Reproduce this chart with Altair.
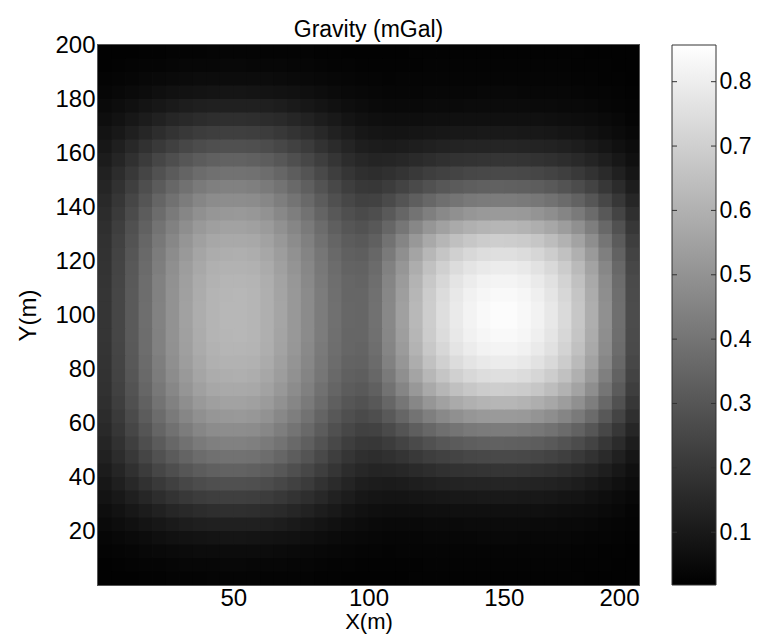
import altair as alt
import pandas as pd

FONT = "Liberation Sans"

title_text = "Gravity (mGal)"
x_title = "X(m)"
y_title = "Y(m)"
x_ticks = [50, 100, 150, 200]
y_ticks = [20, 40, 60, 80, 100, 120, 140, 160, 180, 200]
colorbar_ticks = [0.1, 0.2, 0.3, 0.4, 0.5, 0.6, 0.7, 0.8]
color_domain = [0.018, 0.857]
cell_size = 5
cell_overlap = 0.3   # tiny overlap so that neighbouring cells leave no hairline seams
x_left = list(range(0, 200, 5))
y_bottom = list(range(0, 200, 5))

# gravity (mGal), one row per 5 m strip, from y = 0-5 m up to y = 195-200 m
r00 = [.024,.025,.026,.028,.029,.031,.032,.032,.033,.033,.033,.033,.032,.032,.031,.030,.029,.027,.026,.026,.025,.026,.026,.027,.028,.028,.029,.029,.029,.029,.029,.029,.029,.028,.028,.027,.026,.025,.024,.023]
r01 = [.026,.029,.031,.034,.036,.038,.040,.041,.042,.043,.043,.042,.041,.040,.038,.037,.034,.032,.030,.029,.028,.028,.029,.029,.030,.031,.031,.031,.032,.032,.032,.031,.031,.031,.030,.029,.028,.027,.025,.024]
r02 = [.031,.035,.039,.043,.048,.051,.054,.057,.058,.059,.059,.058,.057,.054,.051,.048,.044,.040,.037,.034,.033,.032,.033,.033,.034,.035,.035,.036,.036,.036,.036,.036,.035,.035,.034,.032,.031,.029,.027,.025]
r03 = [.039,.045,.052,.059,.067,.073,.078,.082,.085,.086,.086,.085,.082,.078,.073,.067,.061,.054,.048,.043,.040,.039,.039,.039,.040,.041,.042,.042,.043,.043,.043,.042,.042,.041,.040,.038,.036,.033,.030,.027]
r04 = [.050,.060,.071,.083,.094,.104,.112,.119,.123,.124,.124,.123,.119,.113,.104,.095,.085,.074,.064,.056,.051,.049,.048,.049,.050,.051,.052,.053,.054,.054,.054,.053,.052,.051,.049,.046,.043,.039,.035,.030]
r05 = [.063,.078,.094,.111,.128,.142,.154,.164,.170,.172,.172,.170,.164,.155,.143,.130,.114,.099,.085,.073,.067,.064,.063,.064,.067,.068,.070,.071,.072,.072,.072,.071,.070,.068,.065,.061,.056,.050,.043,.036]
r06 = [.079,.098,.121,.143,.166,.185,.201,.214,.223,.225,.226,.223,.215,.202,.186,.169,.148,.128,.109,.094,.086,.083,.084,.086,.090,.093,.096,.098,.099,.100,.099,.098,.096,.093,.088,.083,.075,.065,.055,.044]
r07 = [.095,.120,.149,.178,.206,.230,.251,.268,.279,.282,.282,.279,.269,.253,.233,.211,.184,.159,.135,.118,.109,.108,.111,.117,.123,.129,.133,.136,.138,.139,.139,.137,.134,.129,.122,.113,.101,.087,.072,.056]
r08 = [.111,.141,.177,.212,.247,.275,.301,.322,.335,.339,.339,.335,.323,.304,.279,.253,.221,.191,.164,.145,.136,.139,.146,.156,.166,.175,.182,.187,.190,.191,.191,.188,.184,.177,.167,.154,.138,.117,.095,.071]
r09 = [.127,.162,.203,.244,.285,.318,.348,.373,.388,.393,.393,.389,.375,.352,.324,.293,.257,.223,.193,.173,.167,.176,.188,.205,.221,.233,.243,.251,.255,.258,.257,.254,.247,.238,.225,.207,.183,.155,.124,.091]
r10 = [.140,.180,.226,.273,.319,.357,.391,.418,.435,.441,.441,.437,.421,.396,.364,.330,.290,.254,.222,.202,.200,.217,.237,.262,.285,.303,.316,.327,.333,.336,.335,.331,.323,.310,.292,.269,.238,.200,.159,.115]
r11 = [.152,.196,.247,.298,.349,.391,.427,.458,.477,.483,.483,.479,.462,.434,.400,.364,.321,.282,.250,.232,.236,.263,.293,.327,.358,.382,.401,.415,.423,.427,.426,.421,.410,.394,.371,.342,.301,.251,.199,.142]
r12 = [.163,.210,.265,.320,.374,.419,.459,.492,.512,.519,.520,.515,.497,.467,.432,.393,.348,.309,.277,.262,.273,.311,.353,.397,.437,.469,.492,.510,.521,.526,.525,.520,.505,.485,.457,.419,.369,.308,.243,.172]
r13 = [.171,.221,.280,.338,.396,.444,.486,.521,.542,.550,.550,.545,.527,.495,.458,.418,.372,.332,.300,.289,.306,.355,.407,.462,.510,.548,.577,.598,.610,.617,.616,.608,.592,.569,.535,.491,.431,.360,.283,.199]
r14 = [.178,.231,.292,.352,.413,.463,.507,.544,.566,.574,.575,.570,.550,.518,.479,.438,.390,.350,.320,.311,.334,.393,.454,.517,.573,.616,.649,.673,.688,.696,.694,.685,.668,.641,.603,.553,.486,.404,.317,.223]
r15 = [.183,.237,.301,.363,.426,.478,.523,.561,.584,.592,.593,.588,.568,.535,.495,.453,.405,.364,.335,.328,.356,.421,.489,.558,.620,.667,.703,.729,.745,.753,.752,.742,.723,.694,.653,.598,.525,.437,.342,.240]
r16 = [.187,.242,.306,.370,.434,.487,.534,.572,.596,.604,.605,.600,.580,.546,.506,.463,.414,.374,.345,.340,.370,.441,.513,.587,.653,.703,.741,.769,.786,.795,.793,.783,.763,.732,.689,.631,.554,.461,.361,.253]
r17 = [.190,.246,.311,.376,.441,.495,.542,.581,.605,.614,.614,.609,.589,.554,.514,.470,.421,.381,.352,.348,.380,.454,.529,.606,.675,.727,.767,.795,.813,.822,.820,.810,.789,.757,.713,.653,.573,.477,.374,.262]
r18 = [.191,.247,.313,.378,.444,.498,.545,.585,.609,.618,.619,.613,.593,.558,.517,.474,.425,.384,.355,.352,.386,.462,.539,.618,.688,.741,.781,.811,.829,.838,.837,.826,.805,.772,.727,.666,.584,.486,.380,.266]
r19 = [.191,.248,.314,.380,.445,.499,.547,.586,.611,.620,.620,.615,.595,.560,.519,.475,.426,.386,.357,.354,.389,.466,.544,.624,.694,.748,.789,.819,.837,.847,.846,.834,.813,.780,.734,.672,.590,.491,.384,.268]
r20 = [.191,.248,.314,.380,.445,.499,.547,.586,.611,.620,.620,.615,.595,.560,.519,.475,.426,.386,.357,.354,.389,.466,.544,.624,.694,.748,.789,.819,.837,.847,.846,.834,.813,.780,.734,.672,.590,.491,.384,.268]
r21 = [.191,.247,.313,.378,.444,.498,.545,.585,.609,.618,.619,.613,.593,.558,.517,.474,.425,.384,.355,.352,.386,.462,.539,.618,.688,.741,.781,.811,.829,.838,.837,.826,.805,.772,.727,.666,.584,.486,.380,.266]
r22 = [.190,.246,.311,.376,.441,.495,.542,.581,.605,.614,.614,.609,.589,.554,.514,.470,.421,.381,.352,.348,.380,.454,.529,.606,.675,.727,.767,.795,.813,.822,.820,.810,.789,.757,.713,.653,.573,.477,.374,.262]
r23 = [.187,.242,.306,.370,.434,.487,.534,.572,.596,.604,.605,.600,.580,.546,.506,.463,.414,.374,.345,.340,.370,.441,.513,.587,.653,.703,.741,.769,.786,.795,.793,.783,.763,.732,.689,.631,.554,.461,.361,.253]
r24 = [.183,.237,.301,.363,.426,.478,.523,.561,.584,.592,.593,.588,.568,.535,.495,.453,.405,.364,.335,.328,.356,.421,.489,.558,.620,.667,.703,.729,.745,.753,.752,.742,.723,.694,.653,.598,.525,.437,.342,.240]
r25 = [.178,.231,.292,.352,.413,.463,.507,.544,.566,.574,.575,.570,.550,.518,.479,.438,.390,.350,.320,.311,.334,.393,.454,.517,.573,.616,.649,.673,.688,.696,.694,.685,.668,.641,.603,.553,.486,.404,.317,.223]
r26 = [.171,.221,.280,.338,.396,.444,.486,.521,.542,.550,.550,.545,.527,.495,.458,.418,.372,.332,.300,.289,.306,.355,.407,.462,.510,.548,.577,.598,.610,.617,.616,.608,.592,.569,.535,.491,.431,.360,.283,.199]
r27 = [.163,.210,.265,.320,.374,.419,.459,.492,.512,.519,.520,.515,.497,.467,.432,.393,.348,.309,.277,.262,.273,.311,.353,.397,.437,.469,.492,.510,.521,.526,.525,.520,.505,.485,.457,.419,.369,.308,.243,.172]
r28 = [.152,.196,.247,.298,.349,.391,.427,.458,.477,.483,.483,.479,.462,.434,.400,.364,.321,.282,.250,.232,.236,.263,.293,.327,.358,.382,.401,.415,.423,.427,.426,.421,.410,.394,.371,.342,.301,.251,.199,.142]
r29 = [.140,.180,.226,.273,.319,.357,.391,.418,.435,.441,.441,.437,.421,.396,.364,.330,.290,.254,.222,.202,.200,.217,.237,.262,.285,.303,.316,.327,.333,.336,.335,.331,.323,.310,.292,.269,.238,.200,.159,.115]
r30 = [.127,.162,.203,.244,.285,.318,.348,.373,.388,.393,.393,.389,.375,.352,.324,.293,.257,.223,.193,.173,.167,.176,.188,.205,.221,.233,.243,.251,.255,.258,.257,.254,.247,.238,.225,.207,.183,.155,.124,.091]
r31 = [.111,.141,.177,.212,.247,.275,.301,.322,.335,.339,.339,.335,.323,.304,.279,.253,.221,.191,.164,.145,.136,.139,.146,.156,.166,.175,.182,.187,.190,.191,.191,.188,.184,.177,.167,.154,.138,.117,.095,.071]
r32 = [.095,.120,.149,.178,.206,.230,.251,.268,.279,.282,.282,.279,.269,.253,.233,.211,.184,.159,.135,.118,.109,.108,.111,.117,.123,.129,.133,.136,.138,.139,.139,.137,.134,.129,.122,.113,.101,.087,.072,.056]
r33 = [.079,.098,.121,.143,.166,.185,.201,.214,.223,.225,.226,.223,.215,.202,.186,.169,.148,.128,.109,.094,.086,.083,.084,.086,.090,.093,.096,.098,.099,.100,.099,.098,.096,.093,.088,.083,.075,.065,.055,.044]
r34 = [.063,.078,.094,.111,.128,.142,.154,.164,.170,.172,.172,.170,.164,.155,.143,.130,.114,.099,.085,.073,.067,.064,.063,.064,.067,.068,.070,.071,.072,.072,.072,.071,.070,.068,.065,.061,.056,.050,.043,.036]
r35 = [.050,.060,.071,.083,.094,.104,.112,.119,.123,.124,.124,.123,.119,.113,.104,.095,.085,.074,.064,.056,.051,.049,.048,.049,.050,.051,.052,.053,.054,.054,.054,.053,.052,.051,.049,.046,.043,.039,.035,.030]
r36 = [.039,.045,.052,.059,.067,.073,.078,.082,.085,.086,.086,.085,.082,.078,.073,.067,.061,.054,.048,.043,.040,.039,.039,.039,.040,.041,.042,.042,.043,.043,.043,.042,.042,.041,.040,.038,.036,.033,.030,.027]
r37 = [.031,.035,.039,.043,.048,.051,.054,.057,.058,.059,.059,.058,.057,.054,.051,.048,.044,.040,.037,.034,.033,.032,.033,.033,.034,.035,.035,.036,.036,.036,.036,.036,.035,.035,.034,.032,.031,.029,.027,.025]
r38 = [.026,.029,.031,.034,.036,.038,.040,.041,.042,.043,.043,.042,.041,.040,.038,.037,.034,.032,.030,.029,.028,.028,.029,.029,.030,.031,.031,.031,.032,.032,.032,.031,.031,.031,.030,.029,.028,.027,.025,.024]
r39 = [.024,.025,.026,.028,.029,.031,.032,.032,.033,.033,.033,.033,.032,.032,.031,.030,.029,.027,.026,.026,.025,.026,.026,.027,.028,.028,.029,.029,.029,.029,.029,.029,.029,.028,.028,.027,.026,.025,.024,.023]

rows = [r00, r01, r02, r03, r04, r05, r06, r07, r08, r09,
        r10, r11, r12, r13, r14, r15, r16, r17, r18, r19,
        r20, r21, r22, r23, r24, r25, r26, r27, r28, r29,
        r30, r31, r32, r33, r34, r35, r36, r37, r38, r39]

records = []
for j, row in enumerate(rows):
    for i, v in enumerate(row):
        records.append({
            "x0": x_left[i], "x1": x_left[i] + cell_size + cell_overlap,
            "y0": y_bottom[j], "y1": y_bottom[j] + cell_size + cell_overlap,
            "g": v,
        })
df = pd.DataFrame(records)
tick_df = pd.DataFrame({"t": colorbar_ticks})
bar_df = pd.DataFrame({"lo": [color_domain[0]], "hi": [color_domain[1]]})

W, H = 541, 540
BAR_X0, BAR_X1 = 574, 618   # colour bar placement, pixels right of the plot's left edge

gray = alt.Scale(domain=color_domain, range=["#000000", "#ffffff"], interpolate="rgb", clamp=True)

heat = alt.Chart(df).mark_rect(clip=True).encode(
    x=alt.X("x0:Q", scale=alt.Scale(domain=[0, 200], nice=False, zero=False),
            axis=alt.Axis(values=x_ticks, title=x_title, labelPadding=1, titlePadding=1,
                          labelFontSize=24, titleFontSize=22)),
    x2="x1:Q",
    y=alt.Y("y0:Q", scale=alt.Scale(domain=[0, 200], nice=False, zero=False),
            axis=alt.Axis(values=y_ticks, title=y_title, labelPadding=3, titlePadding=14,
                          labelFontSize=24, titleFontSize=24)),
    y2="y1:Q",
    color=alt.Color("g:Q", scale=gray, legend=None),
)

cb_scale = alt.Scale(domain=color_domain, nice=False, zero=False)
bar_fill = alt.LinearGradient(
    gradient="linear",
    stops=[alt.GradientStop(color="#000000", offset=0),
           alt.GradientStop(color="#ffffff", offset=1)],
    x1=0, x2=0, y1=1, y2=0,
)
colorbar = alt.Chart(bar_df).mark_rect(fill=bar_fill, stroke="#333333", strokeWidth=1).encode(
    y=alt.Y("lo:Q", scale=cb_scale,
            axis=alt.Axis(orient="right", offset=BAR_X1 - W, values=colorbar_ticks,
                          format=".1f", title=None, labelPadding=3, labelFontSize=23)),
    y2="hi:Q",
    x=alt.value(BAR_X0), x2=alt.value(BAR_X1),
)
ticks_left = alt.Chart(tick_df).mark_rule(color="#333333", strokeWidth=1).encode(
    y=alt.Y("t:Q", scale=cb_scale, axis=None),
    x=alt.value(BAR_X0), x2=alt.value(BAR_X0 + 5),
)
ticks_right = alt.Chart(tick_df).mark_rule(color="#333333", strokeWidth=1).encode(
    y=alt.Y("t:Q", scale=cb_scale, axis=None),
    x=alt.value(BAR_X1 - 5), x2=alt.value(BAR_X1),
)

chart = alt.layer(heat, colorbar, ticks_left, ticks_right).resolve_scale(
    y="independent"
).properties(
    width=W, height=H,
    padding={"left": 90, "top": 37, "right": 113, "bottom": 49},
    autosize=alt.AutoSizeParams(type="none"),
    title=alt.Title(title_text, offset=-9),
).configure_view(
    stroke="#555555", strokeWidth=2
).configure_axis(
    labelFont=FONT, labelColor="black",
    titleFont=FONT, titleFontWeight="normal", titleColor="black",
    domain=False, ticks=False, grid=False,
).configure_title(
    font=FONT, fontSize=23, fontWeight="normal", color="black", anchor="middle",
)

chart.save("out.html", embed_options={"renderer": "svg", "actions": False})
